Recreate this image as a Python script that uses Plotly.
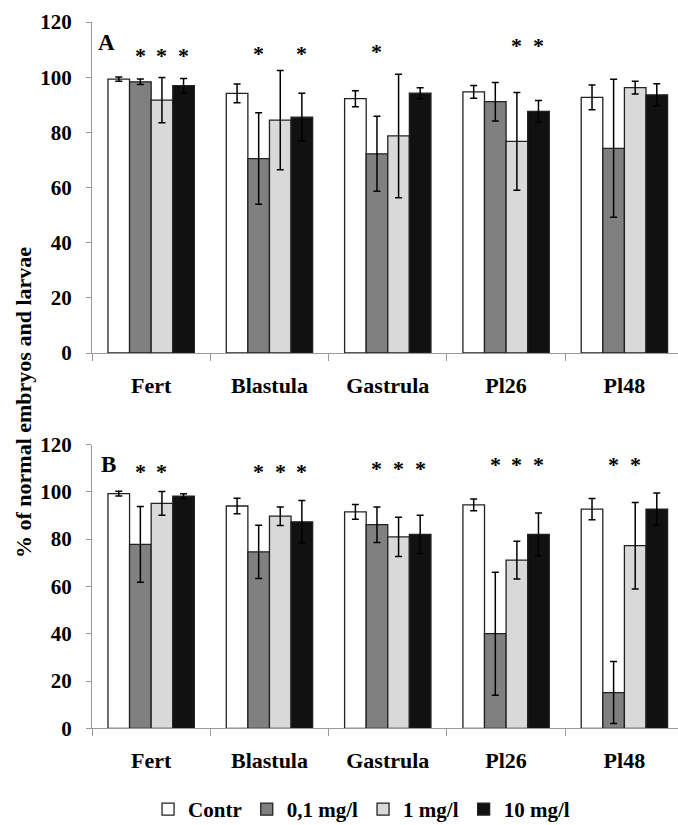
import plotly.graph_objects as go

categories = ["Fert", "Blastula", "Gastrula", "Pl26", "Pl48"]
series_names = ["Contr", "0,1 mg/l", "1 mg/l", "10 mg/l"]

# Panel A
contr_A = [99.3, 94.1, 92.2, 94.7, 92.7]
contr_A_err = [0.8, 3.4, 2.9, 2.3, 4.5]
low_A = [98.3, 70.5, 72.2, 91.1, 74.2]
low_A_err = [1.0, 16.6, 13.6, 7.0, 25.0]
mid_A = [91.7, 84.4, 78.7, 76.7, 96.2]
mid_A_err = [8.2, 18.0, 22.4, 17.7, 2.3]
high_A = [96.9, 85.5, 94.2, 87.6, 93.6]
high_A_err = [2.6, 8.7, 2.0, 3.9, 4.0]

# Panel B
contr_B = [99.2, 94.0, 91.5, 94.5, 92.7]
contr_B_err = [1.0, 3.3, 3.1, 2.5, 4.5]
low_B = [77.8, 74.6, 86.1, 40.0, 15.1]
low_B_err = [16.0, 11.3, 7.5, 26.0, 13.1]
mid_B = [95.1, 89.7, 80.9, 71.1, 77.2]
mid_B_err = [5.0, 3.9, 8.3, 8.0, 18.3]
high_B = [98.2, 87.3, 82.0, 82.0, 92.7]
high_B_err = [1.0, 9.0, 8.1, 9.0, 6.8]

# significance marks: (category index, series index, height)
stars_A = [(0, 1, 108.9), (0, 2, 108.9), (0, 3, 108.9),
           (1, 1, 109.8), (1, 3, 109.8),
           (2, 1, 110.4),
           (3, 2, 112.7), (3, 3, 112.7)]
stars_B = [(0, 1, 109.9), (0, 2, 109.9),
           (1, 1, 109.9), (1, 2, 109.9), (1, 3, 109.9),
           (2, 1, 111.3), (2, 2, 111.3), (2, 3, 111.3),
           (3, 1, 112.7), (3, 2, 112.7), (3, 3, 112.7),
           (4, 1, 112.7), (4, 2, 112.7)]

y_ticks = [0, 20, 40, 60, 80, 100, 120]

colors = ["#ffffff", "#808080", "#d9d9d9", "#111111"]
FONT = "Liberation Serif"
W, H = 678, 825
ML = 92
BARGAP = 0.27


def f(size):
    return dict(family=FONT, size=size, color="#000000", weight="bold")


fig = go.Figure()

panels = [
    ([contr_A, low_A, mid_A, high_A], [contr_A_err, low_A_err, mid_A_err, high_A_err], "x", "y", True),
    ([contr_B, low_B, mid_B, high_B], [contr_B_err, low_B_err, mid_B_err, high_B_err], "x2", "y2", False),
]
for vals, errs, xa, ya, show in panels:
    for i, (v, e) in enumerate(zip(vals, errs)):
        fig.add_trace(go.Bar(
            x=categories, y=v, name=series_names[i],
            marker=dict(color=colors[i], line=dict(color="#222222", width=1.3)),
            error_y=dict(type="data", array=e, visible=True, color="#000000",
                         thickness=1.5, width=3.5),
            xaxis=xa, yaxis=ya, showlegend=show, legendgroup=series_names[i],
        ))

bw = (1 - BARGAP) / 4
annotations = []
for stars, xr, yr in [(stars_A, "x", "y"), (stars_B, "x2", "y2")]:
    for c, s, h in stars:
        annotations.append(dict(
            x=c + (s - 1.5) * bw, y=h, xref=xr, yref=yr, text="*",
            showarrow=False, yshift=-3, font=f(22),
        ))

annotations += [
    dict(x=0.024, y=112.6, xref="x domain", yref="y", text="A", showarrow=False,
         font=f(23), xanchor="center", yanchor="middle"),
    dict(x=0.028, y=111.7, xref="x2 domain", yref="y2", text="B", showarrow=False,
         font=f(23), xanchor="center", yanchor="middle"),
    dict(x=(23 - ML) / (W - ML), y=(H - 403) / H, xref="paper", yref="paper",
         text="% of normal embryos and larvae", textangle=-90, showarrow=False,
         font=f(22), xanchor="center", yanchor="middle"),
]

fig.update_layout(
    width=W, height=H,
    margin=dict(l=ML, r=0, t=0, b=0, autoexpand=False),
    paper_bgcolor="white", plot_bgcolor="white",
    barmode="group", bargap=BARGAP, bargroupgap=0,
    font=dict(family=FONT, color="#000000"),
    showlegend=True,
    legend=dict(orientation="h", x=0.46, xanchor="center", y=-0.006, yanchor="bottom",
                font=f(21), itemwidth=30, traceorder="normal"),
    annotations=annotations,
)

xcommon = dict(type="category", range=[-0.5, 4.453], tickson="boundaries",
               ticks="outside", ticklen=7, tickcolor="#999999", tickwidth=1.3,
               showline=True, linecolor="#999999", linewidth=1.3, showgrid=False,
               tickfont=f(22), ticklabelstandoff=12, automargin=False)
ycommon = dict(range=[0, 120], tickvals=y_ticks, ticks="outside", ticklen=5,
               tickcolor="#999999", tickwidth=1.3, showline=True, linecolor="#999999",
               linewidth=1.3, showgrid=False, zeroline=False,
               tickfont=f(21), ticklabelstandoff=10, automargin=False)

fig.update_layout(
    xaxis=dict(domain=[0, 1], anchor="y", **xcommon),
    yaxis=dict(domain=[(H - 353) / H, (H - 22) / H], anchor="x", **ycommon),
    xaxis2=dict(domain=[0, 1], anchor="y2", **xcommon),
    yaxis2=dict(domain=[(H - 728.3) / H, (H - 444.5) / H], anchor="x2", **ycommon),
)

fig.write_html("out.html")
